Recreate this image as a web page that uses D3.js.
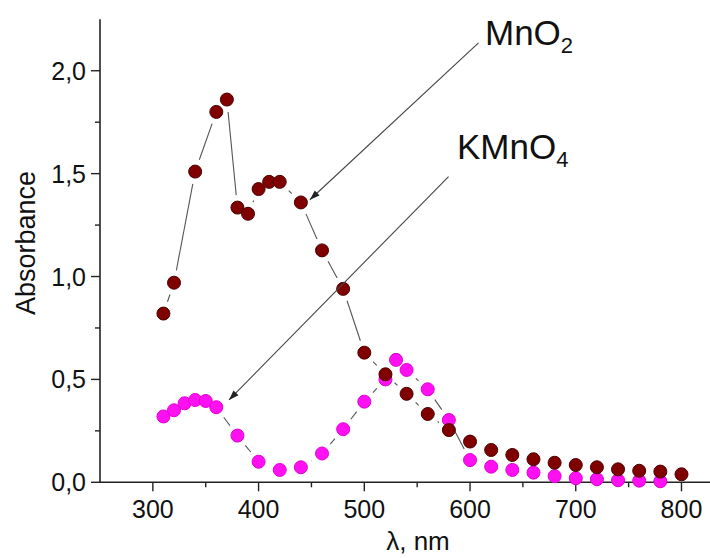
<!DOCTYPE html>
<html>
<head>
<meta charset="utf-8">
<script src="https://cdn.jsdelivr.net/npm/d3@7"></script>
<style>
  body { margin: 0; background: #fff; }
  text { font-family: "Liberation Sans", Arial, sans-serif; fill: #111; }
</style>
</head>
<body>
<svg width="710" height="558"></svg>
<script>
// MnO2 spectrum (dark red)
const mnWave = [310, 320, 340, 360, 370, 380, 390, 400, 410, 420, 440, 460, 480, 500, 520, 540, 560, 580, 600, 620, 640, 660, 680, 700, 720, 740, 760, 780, 800];
const mnAbs  = [0.82, 0.97, 1.51, 1.80, 1.86, 1.335, 1.305, 1.425, 1.46, 1.46, 1.36, 1.127, 0.94, 0.63, 0.525, 0.43, 0.332, 0.254, 0.198, 0.157, 0.133, 0.112, 0.095, 0.084, 0.073, 0.063, 0.056, 0.052, 0.039];

// KMnO4 spectrum (magenta)
const kWave = [310, 320, 330, 340, 350, 360, 380, 400, 420, 440, 460, 480, 500, 520, 530, 540, 560, 580, 600, 620, 640, 660, 680, 700, 720, 740, 760, 780];
const kAbs  = [0.32, 0.35, 0.384, 0.40, 0.395, 0.365, 0.227, 0.10, 0.06, 0.073, 0.14, 0.258, 0.392, 0.50, 0.595, 0.546, 0.452, 0.303, 0.108, 0.076, 0.06, 0.047, 0.03, 0.02, 0.015, 0.01, 0.008, 0.005];

const xTicks = [300, 400, 500, 600, 700, 800];
const yTicks = [0, 0.5, 1.0, 1.5, 2.0];

const svg = d3.select('svg');

const x = d3.scaleLinear().domain([250, 830]).range([100, 713.2]);
const y = d3.scaleLinear().domain([0, 2.25]).range([482.3, 19.3]);

const fmt = d => d3.format('.1f')(d).replace('.', ',');

// axes
const xAxis = svg.append('g').attr('transform', 'translate(0,' + y(0) + ')');
xAxis.append('line').attr('x1', x(250)).attr('x2', 710).attr('stroke', '#222').attr('stroke-width', 1.6);
xAxis.selectAll('.maj').data(xTicks).enter().append('line')
    .attr('x1', d => x(d)).attr('x2', d => x(d)).attr('y1', 0).attr('y2', 9)
    .attr('stroke', '#222').attr('stroke-width', 1.4);
xAxis.selectAll('.min').data(d3.range(350, 850, 100)).enter().append('line')
    .attr('x1', d => x(d)).attr('x2', d => x(d)).attr('y1', 0).attr('y2', 5)
    .attr('stroke', '#222').attr('stroke-width', 1.4);
xAxis.selectAll('text').data(xTicks).enter().append('text')
    .attr('x', d => x(d)).attr('y', 36)
    .attr('text-anchor', 'middle').attr('font-size', 25)
    .text(d => d);

const yAxis = svg.append('g').attr('transform', 'translate(' + x(250) + ',0)');
yAxis.append('line').attr('y1', y(0)).attr('y2', y(2.25)).attr('stroke', '#222').attr('stroke-width', 1.6);
yAxis.selectAll('.maj').data(yTicks).enter().append('line')
    .attr('y1', d => y(d)).attr('y2', d => y(d)).attr('x1', 0).attr('x2', -9)
    .attr('stroke', '#222').attr('stroke-width', 1.4);
yAxis.selectAll('.min').data([0.25, 0.75, 1.25, 1.75]).enter().append('line')
    .attr('y1', d => y(d)).attr('y2', d => y(d)).attr('x1', 0).attr('x2', -5)
    .attr('stroke', '#222').attr('stroke-width', 1.4);
yAxis.selectAll('text').data(yTicks).enter().append('text')
    .attr('x', -14).attr('y', d => y(d) + 9)
    .attr('text-anchor', 'end').attr('font-size', 25)
    .text(fmt);

svg.append('text')
    .attr('transform', 'translate(35,243) rotate(-90)')
    .attr('text-anchor', 'middle').attr('font-size', 27)
    .text('Absorbance');

svg.append('text')
    .attr('x', 418).attr('y', 550)
    .attr('text-anchor', 'middle').attr('font-size', 26)
    .text('λ, nm');

const r = 6.5;

// gapped connecting lines, like Origin's line+symbol
function gapLines(xs, ys) {
    const segs = [];
    for (let i = 0; i < xs.length - 1; i++) {
        const x1 = x(xs[i]), y1 = y(ys[i]), x2 = x(xs[i + 1]), y2 = y(ys[i + 1]);
        const len = Math.hypot(x2 - x1, y2 - y1);
        const gap = r + 6;
        if (len <= gap * 2) continue;
        const ux = (x2 - x1) / len, uy = (y2 - y1) / len;
        segs.push([x1 + ux * gap, y1 + uy * gap, x2 - ux * gap, y2 - uy * gap]);
    }
    return segs;
}

function series(xs, ys, fill, stroke) {
    const g = svg.append('g');
    g.selectAll('line').data(gapLines(xs, ys)).enter().append('line')
        .attr('x1', d => d[0]).attr('y1', d => d[1]).attr('x2', d => d[2]).attr('y2', d => d[3])
        .attr('stroke', '#555').attr('stroke-width', 1.1);
    g.selectAll('circle').data(xs).enter().append('circle')
        .attr('cx', d => x(d)).attr('cy', (d, i) => y(ys[i])).attr('r', r)
        .attr('fill', fill).attr('stroke', stroke).attr('stroke-width', 1);
}

series(kWave, kAbs, '#ff10f0', '#e000d8');
series(mnWave, mnAbs, '#800000', '#4a0000');

// annotation arrows
svg.append('defs').append('marker')
    .attr('id', 'arr').attr('viewBox', '0 0 10 10').attr('refX', 10).attr('refY', 5)
    .attr('markerWidth', 14).attr('markerHeight', 10).attr('markerUnits', 'userSpaceOnUse')
    .attr('orient', 'auto')
    .append('path').attr('d', 'M0,1.5 L10,5 L0,8.5 Z').attr('fill', '#222');

const arrows = [
    { from: [608, 2.135], to: [448.5, 1.373] },
    { from: [579.7, 1.486], to: [372, 0.40] }
];
svg.selectAll('.arrow').data(arrows).enter().append('line')
    .attr('x1', d => x(d.from[0])).attr('y1', d => y(d.from[1]))
    .attr('x2', d => x(d.to[0])).attr('y2', d => y(d.to[1]))
    .attr('stroke', '#444').attr('stroke-width', 1.1)
    .attr('marker-end', 'url(#arr)');

const lab1 = svg.append('text').attr('x', 485).attr('y', 45).attr('font-size', 35);
lab1.append('tspan').text('MnO');
lab1.append('tspan').attr('font-size', 22).attr('dy', 8).text('2');

const lab2 = svg.append('text').attr('x', 457).attr('y', 159).attr('font-size', 35);
lab2.append('tspan').text('KMnO');
lab2.append('tspan').attr('font-size', 22).attr('dy', 8).text('4');
</script>
</body>
</html>
